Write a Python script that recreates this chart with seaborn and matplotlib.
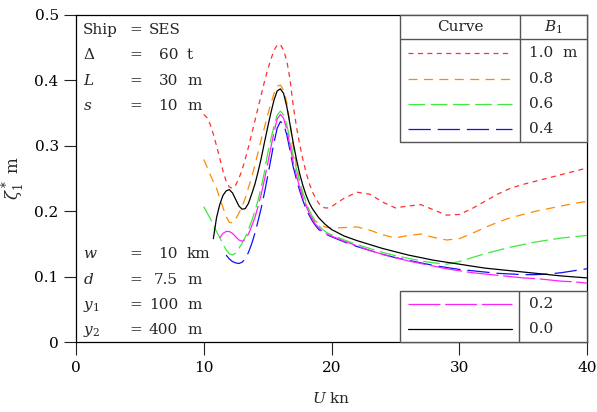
import numpy as np
import pandas as pd
import matplotlib
matplotlib.use("Agg")
import matplotlib.pyplot as plt
import seaborn as sns

# Ship speed U (kn)
U = [10.0, 10.25, 10.5, 10.75, 11.0, 11.25, 11.5, 11.75, 12.0, 12.25,
     12.5, 12.75, 13.0, 13.25, 13.5, 13.75, 14.0, 14.25, 14.5, 14.75,
     15.0, 15.25, 15.5, 15.75, 16.0, 16.25, 16.5, 16.75, 17.0, 17.25,
     17.5, 17.75, 18.0, 18.25, 18.5, 18.75, 19.0, 19.25, 19.5, 19.75,
     20.0, 21, 22, 23, 24, 25, 26, 27, 28, 29, 30, 31, 32, 33, 34, 35,
     36, 37, 38, 39, 40]

nan = np.nan

# Maximum wave height zeta_1* (m) for each cushion parameter B_1
zeta_b10 = [0.348, 0.343, 0.333, 0.318, 0.300, 0.281, 0.262, 0.246, 0.237, 0.235,
            0.240, 0.250, 0.263, 0.280, 0.298, 0.318, 0.338, 0.358, 0.378, 0.398,
            0.416, 0.432, 0.446, 0.454, 0.455, 0.446, 0.430, 0.402, 0.362, 0.330,
            0.303, 0.280, 0.260, 0.243, 0.230, 0.220, 0.212, 0.207, 0.205, 0.205,
            0.207, 0.220, 0.229, 0.226, 0.214, 0.205, 0.208, 0.210, 0.202, 0.194,
            0.195, 0.204, 0.215, 0.226, 0.235, 0.241, 0.246, 0.251, 0.256, 0.261,
            0.266]
zeta_b08 = [0.279, 0.268, 0.256, 0.245, 0.235, 0.220, 0.206, 0.192, 0.183, 0.182,
            0.188, 0.197, 0.207, 0.220, 0.236, 0.252, 0.270, 0.290, 0.310, 0.328,
            0.347, 0.364, 0.380, 0.391, 0.393, 0.385, 0.366, 0.335, 0.300, 0.270,
            0.245, 0.226, 0.211, 0.200, 0.191, 0.185, 0.181, 0.178, 0.176, 0.175,
            0.174, 0.175, 0.176, 0.171, 0.164, 0.159, 0.163, 0.165, 0.160, 0.156,
            0.158, 0.166, 0.175, 0.183, 0.190, 0.195, 0.200, 0.204, 0.208, 0.212,
            0.215]
zeta_b06 = [0.207, 0.198, 0.189, 0.179, 0.169, 0.160, 0.150, 0.141, 0.135, 0.133,
            0.136, 0.143, 0.151, 0.160, 0.172, 0.185, 0.200, 0.217, 0.237, 0.260,
            0.288, 0.310, 0.330, 0.347, 0.353, 0.347, 0.332, 0.310, 0.285, 0.265,
            0.246, 0.229, 0.214, 0.202, 0.192, 0.184, 0.178, 0.173, 0.169, 0.166,
            0.164, 0.156, 0.149, 0.143, 0.137, 0.132, 0.128, 0.124, 0.121, 0.119,
            0.123, 0.129, 0.135, 0.140, 0.145, 0.149, 0.153, 0.156, 0.159, 0.161,
            0.163]
zeta_b04 = [nan, nan, nan, nan, nan, nan, nan, 0.133, 0.127, 0.123,
            0.121, 0.120, 0.122, 0.127, 0.137, 0.150, 0.166, 0.185, 0.205, 0.228,
            0.253, 0.279, 0.305, 0.327, 0.337, 0.333, 0.317, 0.293, 0.268, 0.249,
            0.232, 0.217, 0.204, 0.194, 0.185, 0.178, 0.172, 0.169, 0.166, 0.163,
            0.161, 0.153, 0.146, 0.140, 0.134, 0.129, 0.125, 0.121, 0.117, 0.114,
            0.111, 0.109, 0.107, 0.105, 0.104, 0.103, 0.103, 0.104, 0.106, 0.109,
            0.112]
zeta_b02 = [nan, nan, nan, nan, nan, 0.159, 0.166, 0.169, 0.169, 0.166,
            0.161, 0.156, 0.154, 0.157, 0.165, 0.177, 0.190, 0.207, 0.226, 0.248,
            0.272, 0.297, 0.321, 0.341, 0.348, 0.342, 0.325, 0.300, 0.275, 0.255,
            0.237, 0.221, 0.208, 0.197, 0.188, 0.180, 0.175, 0.170, 0.166, 0.164,
            0.162, 0.154, 0.147, 0.140, 0.134, 0.129, 0.124, 0.120, 0.116, 0.112,
            0.109, 0.106, 0.104, 0.102, 0.100, 0.098, 0.097, 0.095, 0.093, 0.092,
            0.090]
zeta_b00 = [nan, nan, nan, 0.158, 0.190, 0.210, 0.224, 0.231, 0.233, 0.228,
            0.218, 0.208, 0.203, 0.204, 0.212, 0.226, 0.241, 0.260, 0.281, 0.305,
            0.328, 0.350, 0.370, 0.384, 0.387, 0.380, 0.360, 0.333, 0.305, 0.280,
            0.258, 0.240, 0.225, 0.213, 0.204, 0.197, 0.190, 0.185, 0.180, 0.176,
            0.172, 0.162, 0.155, 0.149, 0.143, 0.138, 0.133, 0.129, 0.125, 0.122,
            0.119, 0.116, 0.113, 0.111, 0.109, 0.107, 0.105, 0.103, 0.101, 0.0995,
            0.098]

b1_labels = ["1.0  m", "0.8", "0.6", "0.4", "0.2", "0.0"]
series = [zeta_b10, zeta_b08, zeta_b06, zeta_b04, zeta_b02, zeta_b00]
colors = ["#ff3030", "#ff8a00", "#3fe83f", "#1010f0", "#ff20ff", "#000000"]
dashes = [(0, (3.6, 3.2)), (0, (6.5, 4.6)), (0, (12.0, 4.0)),
          (0, (16.0, 5.0)), (0, (23.0, 3.4)), "-"]

x_ticks = [0, 10, 20, 30, 40]
y_ticks = [0, 0.1, 0.2, 0.3, 0.4, 0.5]
y_tick_labels = ["0", "0.1", "0.2", "0.3", "0.4", "0.5"]

sns.set_theme(style="ticks")
plt.rcParams["font.family"] = ["DejaVu Serif"]
plt.rcParams["mathtext.fontset"] = "dejavuserif"
plt.rcParams["lines.scale_dashes"] = False

W, H = 597, 412
fig = plt.figure(figsize=(W / 100, H / 100), dpi=100)
AX_L, AX_R, AX_T, AX_B = 76, 587, 15, 342
ax = fig.add_axes([AX_L / W, (H - AX_B) / H, (AX_R - AX_L) / W, (AX_B - AX_T) / H])

frames = []
for lab, vals in zip(b1_labels, series):
    frames.append(pd.DataFrame({"U": U, "zeta": vals, "B1": lab}))
df = pd.concat(frames, ignore_index=True)

for lab, col, ls in zip(b1_labels, colors, dashes):
    sub = df[df["B1"] == lab].dropna()
    sns.lineplot(data=sub, x="U", y="zeta", ax=ax, color=col, linewidth=0.9,
                 linestyle=ls, estimator=None, sort=False, zorder=3)

ax.set_xlim(0, 40)
ax.set_ylim(0, 0.5)
ax.set_xticks(x_ticks)
ax.set_xticklabels([str(t) for t in x_ticks])
ax.set_yticks(y_ticks)
ax.set_yticklabels(y_tick_labels)
ax.tick_params(axis="both", direction="out", length=9, width=0.8,
               colors="#222222", labelsize=11, labelcolor="black")
ax.tick_params(axis="x", pad=5)
ax.tick_params(axis="y", pad=3.5)
for sp in ax.spines.values():
    sp.set_visible(True)
    sp.set_color("black")
    sp.set_linewidth(0.9)
ax.set_xlabel(r"$U$ kn", fontsize=11, labelpad=11)
ax.set_ylabel(r"$\zeta_1^*$ m", fontsize=12, labelpad=5)
ax.grid(False)


def ax_xy(px, py):
    return (px - AX_L) / (AX_R - AX_L), (AX_B - py) / (AX_B - AX_T)


def put(px, py, s, ha="left", va="baseline", size=11):
    x, y = ax_xy(px, py)
    ax.text(x, y, s, transform=ax.transAxes, ha=ha, va=va, fontsize=size,
            zorder=6)


# Parameter block, upper left
put(83, 34, "Ship")
put(136, 34, "=", ha="center")
put(149, 34, "SES")
params_top = [(59, r"$\Delta$", "60", "t"), (85, r"$L$", "30", "m"),
              (110, r"$s$", "10", "m")]
params_bot = [(258, r"$w$", "10", "km"), (284, r"$d$", "7.5", "m"),
              (309, r"$y_1$", "100", "m"), (334, r"$y_2$", "400", "m")]
for py, name, val, unit in params_top + params_bot:
    put(83, py, name)
    put(136, py, "=", ha="center")
    put(178, py, val, ha="right")
    put(187, py, unit)

# Legend tables
edge = "#555555"


def seg(x0, y0, x1, y1, color=edge, lw=1.0):
    a = ax_xy(x0, y0)
    b = ax_xy(x1, y1)
    ax.plot([a[0], b[0]], [a[1], b[1]], transform=ax.transAxes, color=color,
            lw=lw, clip_on=False, zorder=5, solid_capstyle="butt")


def box(x0, y0, x1, y1):
    a = ax_xy(x0, y1)
    b = ax_xy(x1, y0)
    ax.add_patch(plt.Rectangle(a, b[0] - a[0], b[1] - a[1], transform=ax.transAxes,
                               facecolor="white", edgecolor=edge, lw=1.0,
                               zorder=4, clip_on=False))


box(400, 15, 587, 142)
seg(400, 39, 587, 39)
seg(520, 15, 520, 142)
put(460, 27, "Curve", ha="center", va="center")
put(553, 27, r"$B_1$", ha="center", va="center")

box(400, 291, 587, 342)
seg(519, 291, 519, 342)

rows = [53, 79, 104, 129, 304, 329]
for py, lab, col, ls in zip(rows, b1_labels, colors, dashes):
    a = ax_xy(408, py)
    b = ax_xy(512, py)
    ax.plot([a[0], b[0]], [a[1], b[1]], transform=ax.transAxes, color=col,
            lw=0.9, linestyle=ls, clip_on=False, zorder=6)
    put(529, py, lab, va="center")

fig.savefig("out.png", dpi=100)
